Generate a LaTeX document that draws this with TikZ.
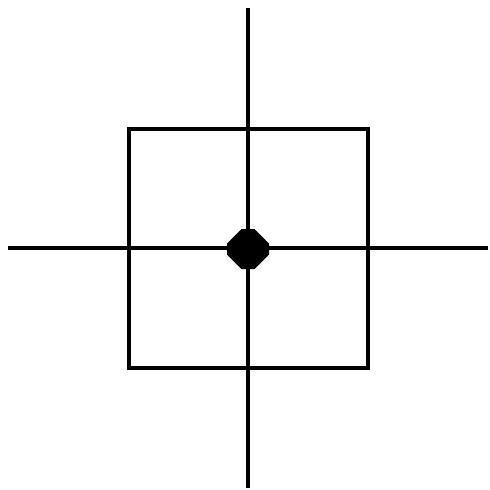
\documentclass[tikz,border=0pt]{standalone}
\begin{document}
\begin{tikzpicture}[x=1pt,y=-1pt,
  stroke/.style={line width=4.5pt,black},
  dot/.style={fill=black}]
\useasboundingbox (0,0) rectangle (490,490);
\coordinate (L) at (8,248);
\coordinate (R) at (488,248);
\coordinate (T) at (248,8);
\coordinate (B) at (248,488);
\coordinate (S1) at (129,129);
\coordinate (S2) at (368,368);
\coordinate (C) at (248,249);
\draw[stroke] (S1) rectangle (S2);
\draw[stroke] (L) -- (R);
\draw[stroke] (T) -- (B);
\fill[dot] ([shift={(-6.5,-20)}]C) -- ([shift={(6.5,-20)}]C) -- ([shift={(21,-5.5)}]C) -- ([shift={(21,5.5)}]C)
  -- ([shift={(6.5,20)}]C) -- ([shift={(-6.5,20)}]C) -- ([shift={(-21,5.5)}]C) -- ([shift={(-21,-5.5)}]C) -- cycle;
\end{tikzpicture}
\end{document}
